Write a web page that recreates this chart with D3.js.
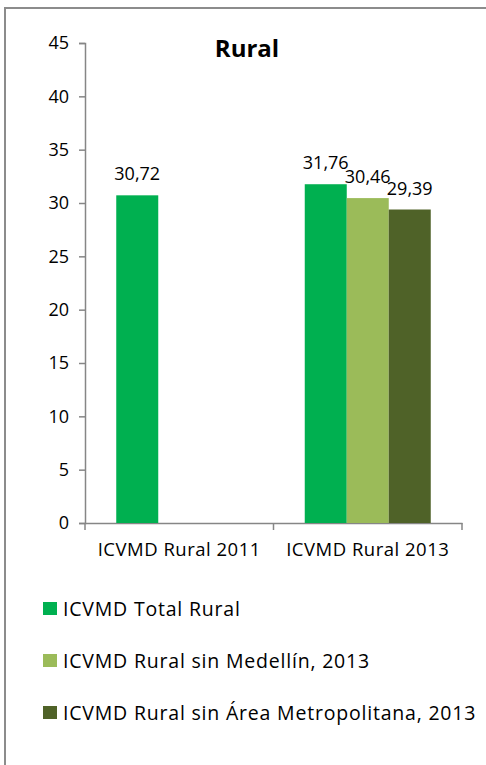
<!DOCTYPE html>
<html>
<head>
<meta charset="utf-8">
<script src="https://cdn.jsdelivr.net/npm/d3@7"></script>
<style>
  body { margin: 0; background: #fff; }
  svg { display: block; font-family: "Open Sans", sans-serif; }
</style>
</head>
<body>
<div id="chart"></div>
<script>
// data
var categories = ['ICVMD Rural 2011', 'ICVMD Rural 2013']
var seriesNames = ['ICVMD Total Rural', 'ICVMD Rural sin Medellín, 2013', 'ICVMD Rural sin Área Metropolitana, 2013']
var seriesColors = ['#00B050', '#9BBB59', '#4F6228']
var totalRural = [30.72, 31.76]
var sinMedellin = [null, 30.46]
var sinAreaMetro = [null, 29.39]
var yTicks = [0, 5, 10, 15, 20, 25, 30, 35, 40, 45]

var W = 486, H = 765
var FONT = '"Open Sans", sans-serif'
var FS = 17.5
var margin = { top: 43, left: 85, right: 24, bottom: 242 }
var plotW = W - margin.left - margin.right
var plotH = H - margin.top - margin.bottom

var svg = d3.select('#chart').append('svg')
  .attr('width', W)
  .attr('height', H)

// outer chart border (only left and top edges visible)
svg.append('rect')
  .attr('x', 5).attr('y', 8)
  .attr('width', W + 10).attr('height', H + 10)
  .attr('fill', 'none')
  .attr('stroke', '#8c8c8c')
  .attr('stroke-width', 2)

var g = svg.append('g')
  .attr('transform', 'translate(' + margin.left + ',' + margin.top + ')')

var x0 = d3.scaleBand().domain(categories).range([0, plotW]).paddingInner(0).paddingOuter(0)
var x1 = d3.scaleBand().domain(d3.range(seriesNames.length))
  .range([x0.bandwidth() / 2 - 63, x0.bandwidth() / 2 + 63])
var y = d3.scaleLinear().domain([0, 45]).range([plotH, 0])

var fmt = v => d3.format('.2f')(v).replace('.', ',')

// y axis
var yAxis = g.append('g')
  .call(d3.axisLeft(y).tickValues(yTicks).tickSize(6).tickPadding(10).tickFormat(d3.format('d')))
yAxis.select('.domain').attr('stroke', '#868686').attr('stroke-width', 1.5)
yAxis.selectAll('.tick line').attr('stroke', '#868686').attr('stroke-width', 1.5)
yAxis.selectAll('.tick text').attr('font-size', 18).attr('fill', '#000')
  .attr('font-family', FONT)

// x axis
var xAxis = g.append('g')
  .attr('transform', 'translate(0,' + plotH + ')')
  .call(d3.axisBottom(x0).tickSize(0).tickPadding(20))
xAxis.select('.domain').attr('stroke', '#868686').attr('stroke-width', 1.5)
xAxis.selectAll('.tick text').attr('font-size', 18.5).attr('fill', '#000')
  .attr('font-family', FONT).attr('letter-spacing', 0.5)
// category boundary ticks
g.append('g').selectAll('line')
  .data([0, plotW / 2, plotW])
  .join('line')
  .attr('x1', d => d).attr('x2', d => d)
  .attr('y1', plotH).attr('y2', plotH + 7)
  .attr('stroke', '#868686').attr('stroke-width', 1.5)

var series = [totalRural, sinMedellin, sinAreaMetro]
var bars = []
categories.forEach((c, ci) => {
  series.forEach((s, si) => {
    if (s[ci] != null) bars.push({ cat: c, si: si, v: s[ci] })
  })
})

g.selectAll('rect.bar')
  .data(bars)
  .join('rect')
  .attr('class', 'bar')
  .attr('x', d => x0(d.cat) + x1(d.si))
  .attr('y', d => y(d.v))
  .attr('width', x1.bandwidth())
  .attr('height', d => plotH - y(d.v))
  .attr('fill', d => seriesColors[d.si])

g.selectAll('text.lbl')
  .data(bars)
  .join('text')
  .attr('class', 'lbl')
  .attr('x', d => x0(d.cat) + x1(d.si) + x1.bandwidth() / 2)
  .attr('y', d => y(d.v) - 15)
  .attr('text-anchor', 'middle')
  .attr('font-size', 18)
  .attr('fill', '#000')
  .text(d => fmt(d.v))

// title
svg.append('text')
  .attr('x', 247).attr('y', 57)
  .attr('text-anchor', 'middle')
  .attr('font-size', 24)
  .attr('font-weight', 'bold')
  .attr('fill', '#000')
  .text('Rural')

// legend
var leg = svg.append('g').selectAll('g')
  .data(seriesNames)
  .join('g')
  .attr('transform', (d, i) => 'translate(43,' + (602 + i * 52) + ')')
leg.append('rect')
  .attr('width', 14).attr('height', 13)
  .attr('fill', (d, i) => seriesColors[i])
leg.append('text')
  .attr('x', 20).attr('y', 13.5)
  .attr('font-size', 19.5)
  .attr('letter-spacing', 0.8)
  .attr('fill', '#000')
  .text(d => d)
</script>
</body>
</html>
